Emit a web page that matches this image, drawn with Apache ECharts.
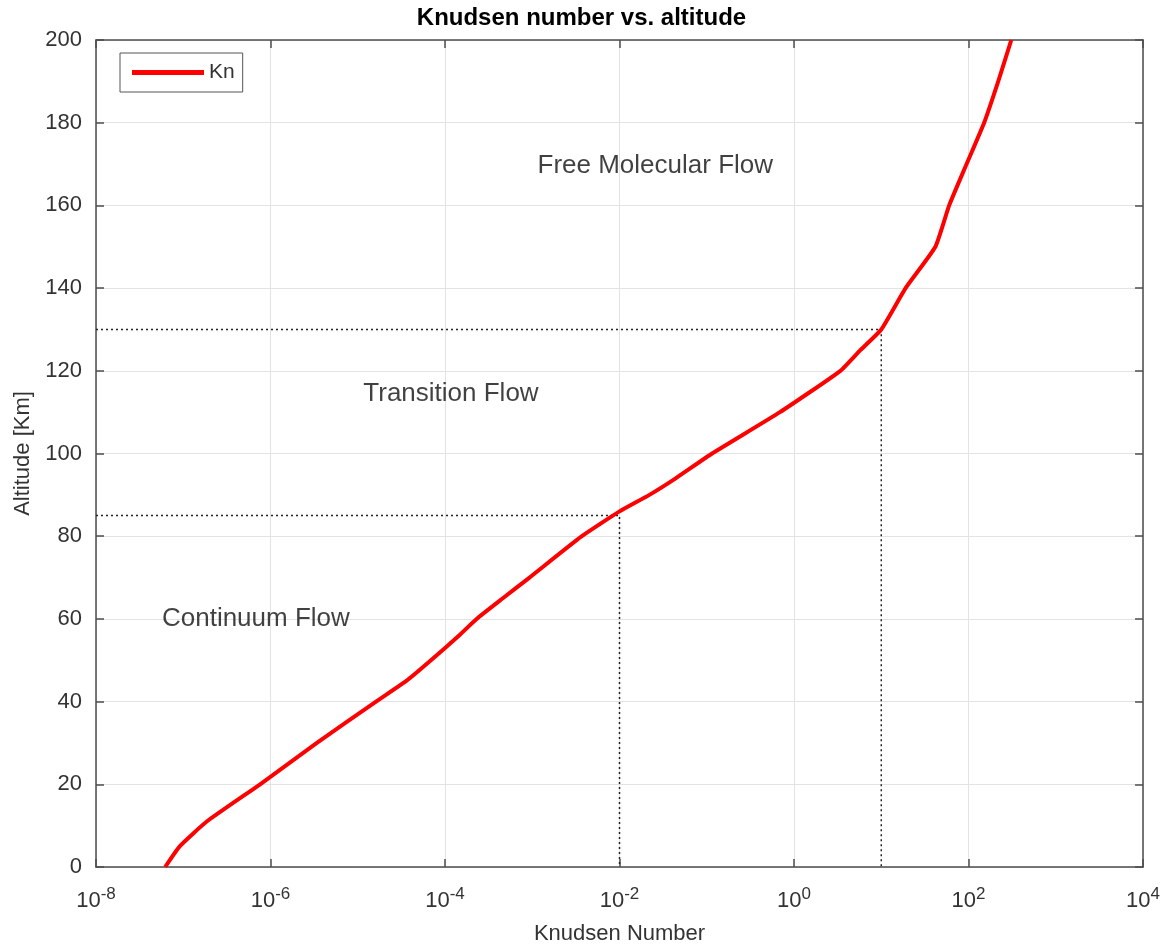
<!DOCTYPE html>
<html>
<head>
<meta charset="utf-8">
<script src="https://cdn.jsdelivr.net/npm/echarts@6/dist/echarts.min.js"></script>
<style>
html,body{margin:0;padding:0;background:#fff;}
#chart{width:1163px;height:950px;}
</style>
</head>
<body>
<div id="chart"></div>
<script>
// ---- data ----
const altitudeKm = [0, 5, 11, 20, 30, 40, 45, 50, 56, 60, 65, 70, 80, 86, 90, 94, 100, 110, 120, 125, 130, 140, 150, 160, 170, 180, 190, 200];
const knudsenNumber = [6.2e-8, 9.1e-8, 1.86e-7, 7.6e-7, 3.4e-6, 1.62e-5, 3.6e-5, 6.9e-5, 1.45e-4, 2.3e-4, 4.6e-4, 9.3e-4, 3.7e-3, 1.0e-2, 0.022, 0.044, 0.115, 0.69, 3.4, 5.75, 10, 19, 41.7, 60, 95, 151, 219, 309];

// regime boundaries (dotted guide lines)
const boundaryAltitudeKm = [85, 130];
const boundaryKnudsen = [0.01, 10];

// region annotations
const regionLabels = ['Continuum Flow', 'Transition Flow', 'Free Molecular Flow'];
const regionLabelKnudsen = [6.8e-7, 1.17e-4, 0.0257];
const regionLabelAltitude = [60, 114.5, 169.5];

const xMin = 1e-8, xMax = 1e4;
const yMin = 0, yMax = 200, yStep = 20;

// ---- build chart ----
const FONT = '"Liberation Sans", Arial, Helvetica, sans-serif';
const AXIS_COLOR = '#4d4d4d';
const TEXT_COLOR = '#333333';
const GRID_COLOR = '#e3e3e3';

const curve = altitudeKm.map((a, i) => [knudsenNumber[i], a]);

const guideSeries = boundaryAltitudeKm.map((a, i) => ({
  type: 'line',
  name: 'guide' + i,
  silent: true,
  symbol: 'none',
  animation: false,
  lineStyle: { color: '#222', width: 1.5, type: [2, 3] },
  data: [[xMin, a], [boundaryKnudsen[i], a], [boundaryKnudsen[i], yMin]],
  z: 3
}));

const labelSeries = {
  type: 'scatter',
  name: 'labels',
  silent: true,
  symbolSize: 0,
  animation: false,
  data: regionLabels.map((t, i) => ({ value: [regionLabelKnudsen[i], regionLabelAltitude[i]], name: t })),
  label: {
    show: true,
    position: 'inside',
    formatter: p => p.name,
    fontSize: 26,
    fontFamily: FONT,
    color: '#111',
    align: 'center',
    verticalAlign: 'middle'
  },
  z: 4
};

function logLabel(v) {
  const e = Math.round(Math.log10(v));
  return '{b|10}{s|' + e + '}';
}

const baseX = {
  type: 'log',
  logBase: 10,
  min: xMin,
  max: xMax,
  interval: 2,
  axisLine: { show: true, onZero: false, lineStyle: { color: AXIS_COLOR, width: 1.5 } },
  axisTick: { show: true, inside: true, length: 8, lineStyle: { color: AXIS_COLOR, width: 1.5 } },
  minorTick: { show: false },
  minorSplitLine: { show: false }
};
const baseY = {
  type: 'value',
  min: yMin,
  max: yMax,
  interval: yStep,
  axisLine: { show: true, onZero: false, lineStyle: { color: AXIS_COLOR, width: 1.5 } },
  axisTick: { show: true, inside: true, length: 8, lineStyle: { color: AXIS_COLOR, width: 1.5 } }
};

const option = {
  backgroundColor: '#ffffff',
  animation: false,
  textStyle: { fontFamily: FONT },
  title: {
    text: 'Knudsen number vs. altitude',
    left: 'center',
    top: 1,
    textStyle: { fontSize: 24, fontWeight: 'bold', color: '#000', fontFamily: FONT }
  },
  legend: {
    data: [{ name: 'Kn', icon: 'rect' }],
    left: 120,
    top: 53,
    itemWidth: 72,
    itemHeight: 5,
    padding: [9, 8, 9, 12],
    borderColor: '#555',
    borderWidth: 1,
    backgroundColor: '#fff',
    textStyle: { fontSize: 21, color: TEXT_COLOR, fontFamily: FONT, lineHeight: 21 }
  },
  grid: { left: 96, right: 18, top: 40, bottom: 80, containLabel: false },
  xAxis: [
    Object.assign({}, baseX, {
      position: 'bottom',
      name: 'Knudsen Number',
      nameLocation: 'middle',
      nameGap: 56,
      nameTextStyle: { fontSize: 22, color: TEXT_COLOR, fontFamily: FONT },
      axisLabel: {
        show: true,
        margin: 15,
        formatter: logLabel,
        rich: {
          b: { fontSize: 22, color: TEXT_COLOR, fontFamily: FONT, padding: [8, 0, 0, 0] },
          s: { fontSize: 17, color: TEXT_COLOR, fontFamily: FONT, padding: [0, 0, 6, 0] }
        }
      },
      splitLine: { show: true, lineStyle: { color: GRID_COLOR, width: 1 } }
    }),
    Object.assign({}, baseX, {
      position: 'top',
      axisLabel: { show: false },
      splitLine: { show: false }
    })
  ],
  yAxis: [
    Object.assign({}, baseY, {
      position: 'left',
      name: 'Altitude [Km]',
      nameLocation: 'middle',
      nameGap: 61,
      nameTextStyle: { fontSize: 22, color: TEXT_COLOR, fontFamily: FONT },
      axisLabel: { show: true, margin: 14, fontSize: 22, color: TEXT_COLOR, fontFamily: FONT },
      splitLine: { show: true, lineStyle: { color: GRID_COLOR, width: 1 } }
    }),
    Object.assign({}, baseY, {
      position: 'right',
      axisLabel: { show: false },
      splitLine: { show: false }
    })
  ],
  series: [
    {
      type: 'line',
      name: 'Kn',
      data: curve,
      symbol: 'none',
      showSymbol: false,
      smooth: 0.15,
      lineStyle: { color: '#ff0000', width: 4, join: 'round' },
      itemStyle: { color: '#ff0000' },
      z: 5
    },
    ...guideSeries,
    labelSeries
  ]
};

const chart = echarts.init(document.getElementById('chart'), null, { renderer: 'canvas' });
chart.setOption(option);
</script>
</body>
</html>
